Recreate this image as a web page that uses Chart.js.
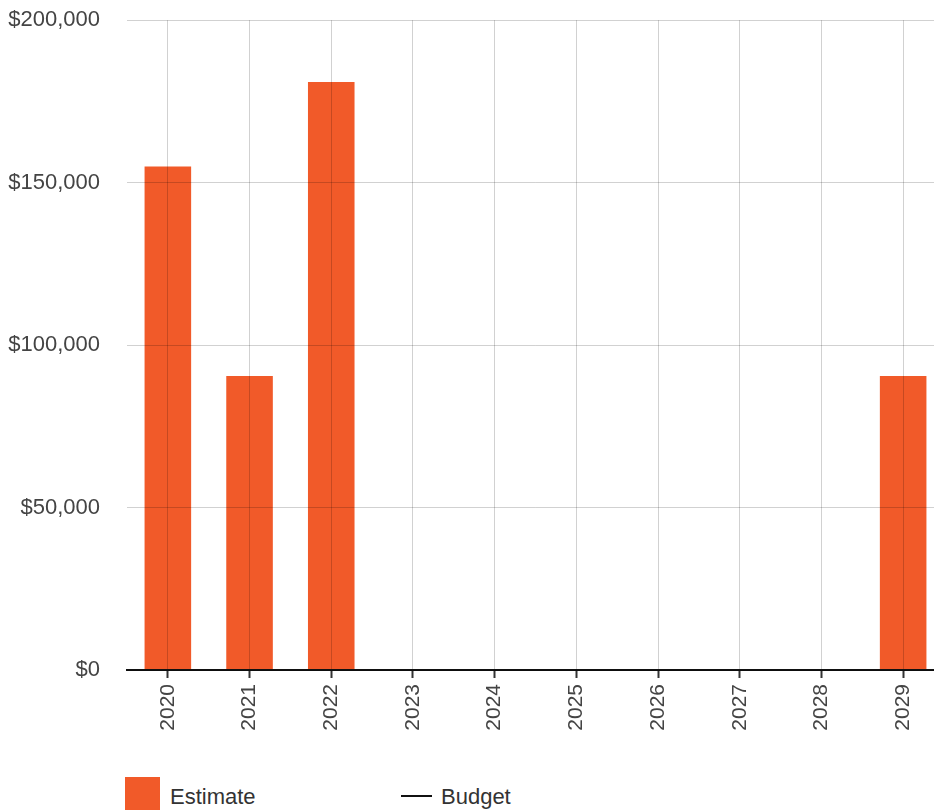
<!DOCTYPE html>
<html>
<head>
<meta charset="utf-8">
<script src="https://cdn.jsdelivr.net/npm/chart.js@4/dist/chart.umd.min.js"></script>
<style>
  body { margin: 0; overflow: hidden; background: #fff; font-family: "Liberation Sans", Arial, sans-serif; }
  #wrap { position: relative; width: 934px; height: 810px; overflow: hidden; }
  canvas { position: absolute; left: 0; top: -20px; }
  .legend { position: absolute; top: 777px; font-size: 22px; color: #333; }
  .box { position: absolute; width: 35px; height: 34px; background: #f15a29; }
  .line { position: absolute; width: 31px; height: 2px; background: #111; }
</style>
</head>
<body>
<div id="wrap">
  <canvas id="chart" width="950" height="780"></canvas>
  <div class="legend" style="left:125px;">
    <div class="box" style="left:0; top:0;"></div>
    <span style="position:absolute; left:45px; top:7px;">Estimate</span>
  </div>
  <div class="legend" style="left:401px;">
    <div class="line" style="left:0; top:18px;"></div>
    <span style="position:absolute; left:40px; top:7px; white-space:nowrap;">Budget</span>
  </div>
</div>
<script>
const years = ["2020", "2021", "2022", "2023", "2024", "2025", "2026", "2027", "2028", "2029"];
const estimate = [155000, 90500, 181000, 0, 0, 0, 0, 0, 0, 90500];
const budget = [0, 0, 0, 0, 0, 0, 0, 0, 0, 0];

const family = "'Liberation Sans', Arial, sans-serif";

new Chart(document.getElementById("chart"), {
  type: "bar",
  data: {
    labels: years,
    datasets: [
      {
        type: "line",
        label: "Budget",
        data: budget,
        borderColor: "#111",
        borderWidth: 2,
        pointRadius: 0,
        order: 0,
      },
      {
        label: "Estimate",
        data: estimate,
        backgroundColor: "#f15a29",
        barPercentage: 0.57,
        categoryPercentage: 1,
        order: 1,
      },
    ],
  },
  options: {
    responsive: false,
    animation: false,
    layout: { padding: { top: 0, right: 6, left: 0, bottom: 0 } },
    plugins: { legend: { display: false }, tooltip: { enabled: false } },
    scales: {
      x: {
        offset: true,
        // grid above the bars, like the reference
        grid: { offset: false, color: "rgba(0,0,0,0.18)", z: 1, tickLength: 8, tickColor: "#333", tickWidth: 2 },
        border: { color: "#111", width: 2, z: 1 },
        ticks: { font: { family: family, size: 21 }, color: "#444", minRotation: 90, maxRotation: 90, padding: 6 },
        afterFit: (s) => { s.height = 90; },
      },
      y: {
        min: 0,
        max: 200000,
        grid: { color: "rgba(0,0,0,0.18)", drawTicks: false, z: 1 },
        border: { display: false },
        ticks: {
          stepSize: 50000,
          font: { family: family, size: 22 },
          color: "#444",
          padding: 27,
          callback: (v) => "$" + v.toLocaleString("en-US"),
        },
        afterFit: (s) => { s.width = 127; },
      },
    },
  },
});
</script>
</body>
</html>
